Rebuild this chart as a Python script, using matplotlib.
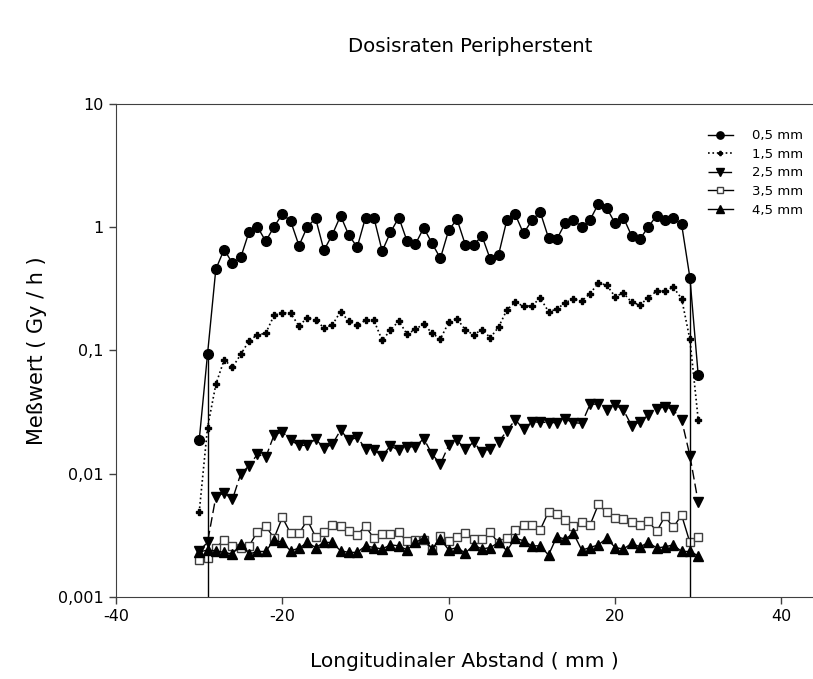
import numpy as np
import matplotlib.pyplot as plt

plt.rcParams['font.family'] = ['DejaVu Sans']
plt.rcParams['axes.unicode_minus'] = False

# longitudinal position (mm)
abstand = np.arange(-30, 31)

# dose rates (Gy/h) at different radial distances
mm05 = [0.0187, 0.093, 0.457, 0.66, 0.51, 0.57, 0.92, 1.01, 0.77, 1.01,
        1.28, 1.12, 0.71, 1.01, 1.18, 0.65, 0.87, 1.24, 0.86, 0.69,
        1.2, 1.2, 0.64, 0.91, 1.2, 0.77, 0.73, 0.99, 0.74, 0.56,
        0.95, 1.16, 0.72, 0.72, 0.85, 0.55, 0.6, 1.15, 1.27, 0.89,
        1.14, 1.33, 0.82, 0.8, 1.08, 1.15, 1.0, 1.15, 1.55, 1.43,
        1.08, 1.2, 0.85, 0.8, 1.01, 1.24, 1.15, 1.18, 1.06, 0.39, 0.063]
mm15 = [0.00485, 0.0236, 0.053, 0.084, 0.073, 0.093, 0.12, 0.134, 0.138, 0.193,
        0.203, 0.2, 0.158, 0.185, 0.176, 0.153, 0.161, 0.207, 0.172, 0.16,
        0.176, 0.176, 0.121, 0.146, 0.174, 0.135, 0.149, 0.164, 0.138, 0.124,
        0.169, 0.181, 0.147, 0.134, 0.148, 0.127, 0.155, 0.214, 0.246, 0.229,
        0.23, 0.267, 0.207, 0.216, 0.245, 0.261, 0.252, 0.29, 0.353, 0.339,
        0.274, 0.293, 0.246, 0.234, 0.269, 0.303, 0.303, 0.326, 0.264, 0.123, 0.0274]
mm25 = [0.00237, 0.00277, 0.0065, 0.0070, 0.0062, 0.010, 0.0116, 0.0144, 0.0136, 0.0206,
        0.0219, 0.0187, 0.017, 0.017, 0.0191, 0.0162, 0.0173, 0.0226, 0.0187, 0.0197,
        0.016, 0.0156, 0.014, 0.0168, 0.0155, 0.0165, 0.0166, 0.0193, 0.0144, 0.012,
        0.017, 0.0187, 0.0158, 0.0181, 0.0149, 0.016, 0.0181, 0.0223, 0.0274, 0.023,
        0.0262, 0.0263, 0.026, 0.026, 0.0277, 0.026, 0.0256, 0.0367, 0.0367, 0.033,
        0.0362, 0.033, 0.0245, 0.0264, 0.0299, 0.0334, 0.0351, 0.033, 0.0274, 0.014, 0.00585]
mm35 = [0.00199, 0.00207, 0.00252, 0.00289, 0.00257, 0.00252, 0.0026, 0.00338, 0.00376, 0.003,
        0.00442, 0.00328, 0.00328, 0.0042, 0.00308, 0.00334, 0.00385, 0.00378, 0.00345, 0.0032,
        0.00374, 0.003, 0.00324, 0.00324, 0.00334, 0.00282, 0.00291, 0.0029, 0.0024, 0.0031,
        0.00282, 0.00304, 0.0033, 0.00295, 0.00295, 0.00334, 0.00273, 0.00299, 0.00349, 0.00385,
        0.00385, 0.00351, 0.00491, 0.0047, 0.00423, 0.00378, 0.00403, 0.00385, 0.00564, 0.00485,
        0.00434, 0.0043, 0.00407, 0.00383, 0.00415, 0.0034, 0.00451, 0.00367, 0.00462, 0.00277, 0.00304]
mm45 = [0.00232, 0.0024, 0.00237, 0.0023, 0.00223, 0.00269, 0.00223, 0.00234, 0.00234, 0.0029,
        0.00277, 0.00237, 0.00249, 0.00277, 0.00252, 0.00277, 0.00277, 0.00237, 0.0023, 0.0023,
        0.0026, 0.00252, 0.00245, 0.00265, 0.0026, 0.00241, 0.00277, 0.003, 0.00245, 0.00295,
        0.00241, 0.00252, 0.00227, 0.00264, 0.00245, 0.00252, 0.00277, 0.00237, 0.003, 0.00286,
        0.0026, 0.0026, 0.00219, 0.00308, 0.00295, 0.00328, 0.0024, 0.00252, 0.00265, 0.003,
        0.00252, 0.00245, 0.00272, 0.00255, 0.00277, 0.0025, 0.00255, 0.00265, 0.00234, 0.00234, 0.00216]

# stent ends
stent_ends = [-29, 29]

fig = plt.figure(figsize=(8.13, 6.79), dpi=100)
ax = fig.add_axes([0.1427, 0.1208, 0.8573, 0.726])

ax.plot(abstand, mm05, '-o', color='k', lw=1, ms=7, label='0,5 mm')
ax.plot(abstand, mm15, color='k', ls=':', lw=1.2, marker='P', ms=4, label='1,5 mm')
ax.plot(abstand, mm25, color='k', ls=(0, (7, 3)), lw=1, marker='v', ms=7.5, label='2,5 mm')
ax.plot(abstand, mm35, '-s', color='k', lw=1, ms=6, mfc='white', mec='#404040',
        label='3,5 mm')
ax.plot(abstand, mm45, '-^', color='k', lw=1, ms=7.5, label='4,5 mm')

# drop lines at the stent ends
ends05 = [mm05[list(abstand).index(e)] for e in stent_ends]
ax.vlines(stent_ends, 0.001, ends05, colors='k', lw=1)

ax.set_yscale('log')
ax.set_xlim(-40, 43.8)
ax.set_ylim(0.001, 10)
ax.set_xticks([-40, -20, 0, 20, 40])
ax.set_yticks([0.001, 0.01, 0.1, 1, 10])
ax.set_yticklabels(['0,001', '0,01', '0,1', '1', '10'])
ax.minorticks_off()
ax.tick_params(direction='out', length=5, width=1, color='#404040', labelsize=11.5, pad=4)
for s in ['left', 'bottom', 'top']:
    ax.spines[s].set_color('#404040')
ax.spines['right'].set_visible(False)

ax.set_xlabel('Longitudinaler Abstand ( mm )', fontsize=14.5, labelpad=20)
ax.set_ylabel('Meßwert ( Gy / h )', fontsize=15, labelpad=8)
fig.suptitle('Dosisraten Peripherstent', fontsize=14.2, x=0.578, y=0.945)

ax.legend(loc='upper right', bbox_to_anchor=(1.003, 0.827), bbox_transform=fig.transFigure,
          frameon=False, fontsize=9.5, handlelength=1.9, handletextpad=1.5,
          labelspacing=0.42, markerscale=0.75)

plt.savefig('out.png', dpi=100)
